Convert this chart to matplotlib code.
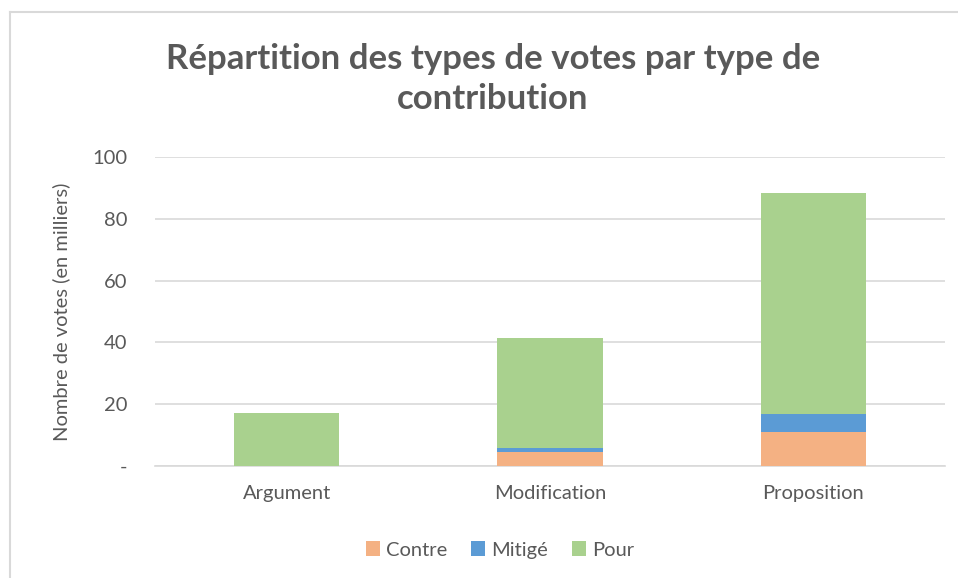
import matplotlib.pyplot as plt
import numpy as np
from matplotlib.lines import Line2D

# data (thousands of votes)
categories = ['Argument', 'Modification', 'Proposition']
contre = [0.0, 4.6, 10.9]
mitige = [0.0, 1.3, 5.9]
pour = [17.0, 35.6, 71.4]
yticks = [0, 20, 40, 60, 80, 100]
yticklabels = ['-', '20', '40', '60', '80', '100']

plt.rcParams['font.family'] = ['Lato', 'DejaVu Sans']
gray = '#595959'

fig = plt.figure(figsize=(9.58, 5.78), dpi=100)
ax = fig.add_axes([155/958, 1 - 466/578, 790/958, 309/578])

x = np.arange(len(categories))
w = 0.4
ax.bar(x, contre, w, color='#F4B183', label='Contre', zorder=3)
ax.bar(x, mitige, w, bottom=contre, color='#5B9BD5', label='Mitigé', zorder=3)
bottom2 = np.array(contre) + np.array(mitige)
ax.bar(x, pour, w, bottom=bottom2, color='#A9D18E', label='Pour', zorder=3)

ax.set_xlim(-0.5, 2.5)
ax.set_ylim(0, 100)
ax.set_yticks(yticks)
ax.set_yticklabels(yticklabels)
ax.set_xticks(x)
ax.set_xticklabels(categories)
ax.yaxis.grid(True, color='#d9d9d9', linewidth=1.2, zorder=0)
ax.tick_params(axis='both', length=0, colors=gray, labelsize=14.5)
ax.tick_params(axis='y', pad=20)
ax.tick_params(axis='x', pad=14)
for s in ['top', 'right', 'left']:
    ax.spines[s].set_visible(False)
ax.spines['bottom'].set_color('#d9d9d9')
ax.spines['bottom'].set_linewidth(1.2)

ax.set_ylabel('Nombre de votes (en milliers)', color=gray, fontsize=14.5, labelpad=16)

fig.text(493/958, 1 - 79/578, 'Répartition des types de votes par type de\ncontribution',
         ha='center', va='center', fontsize=25, fontweight='bold', color=gray,
         linespacing=1.3)

leg = fig.legend(loc='center', bbox_to_anchor=(500/958, 1 - 550/578), ncol=3,
                 frameon=False, fontsize=14.5, handlelength=0.7, handleheight=0.7,
                 handletextpad=0.3, columnspacing=1.2)
for t in leg.get_texts():
    t.set_color(gray)

# chart frame border (top and left visible)
fig.add_artist(Line2D([10/958, 1], [1 - 12/578, 1 - 12/578], color='#d9d9d9', lw=1.5))
fig.add_artist(Line2D([10/958, 10/958], [0, 1 - 12/578], color='#d9d9d9', lw=1.5))

fig.savefig('out.png', dpi=100)
